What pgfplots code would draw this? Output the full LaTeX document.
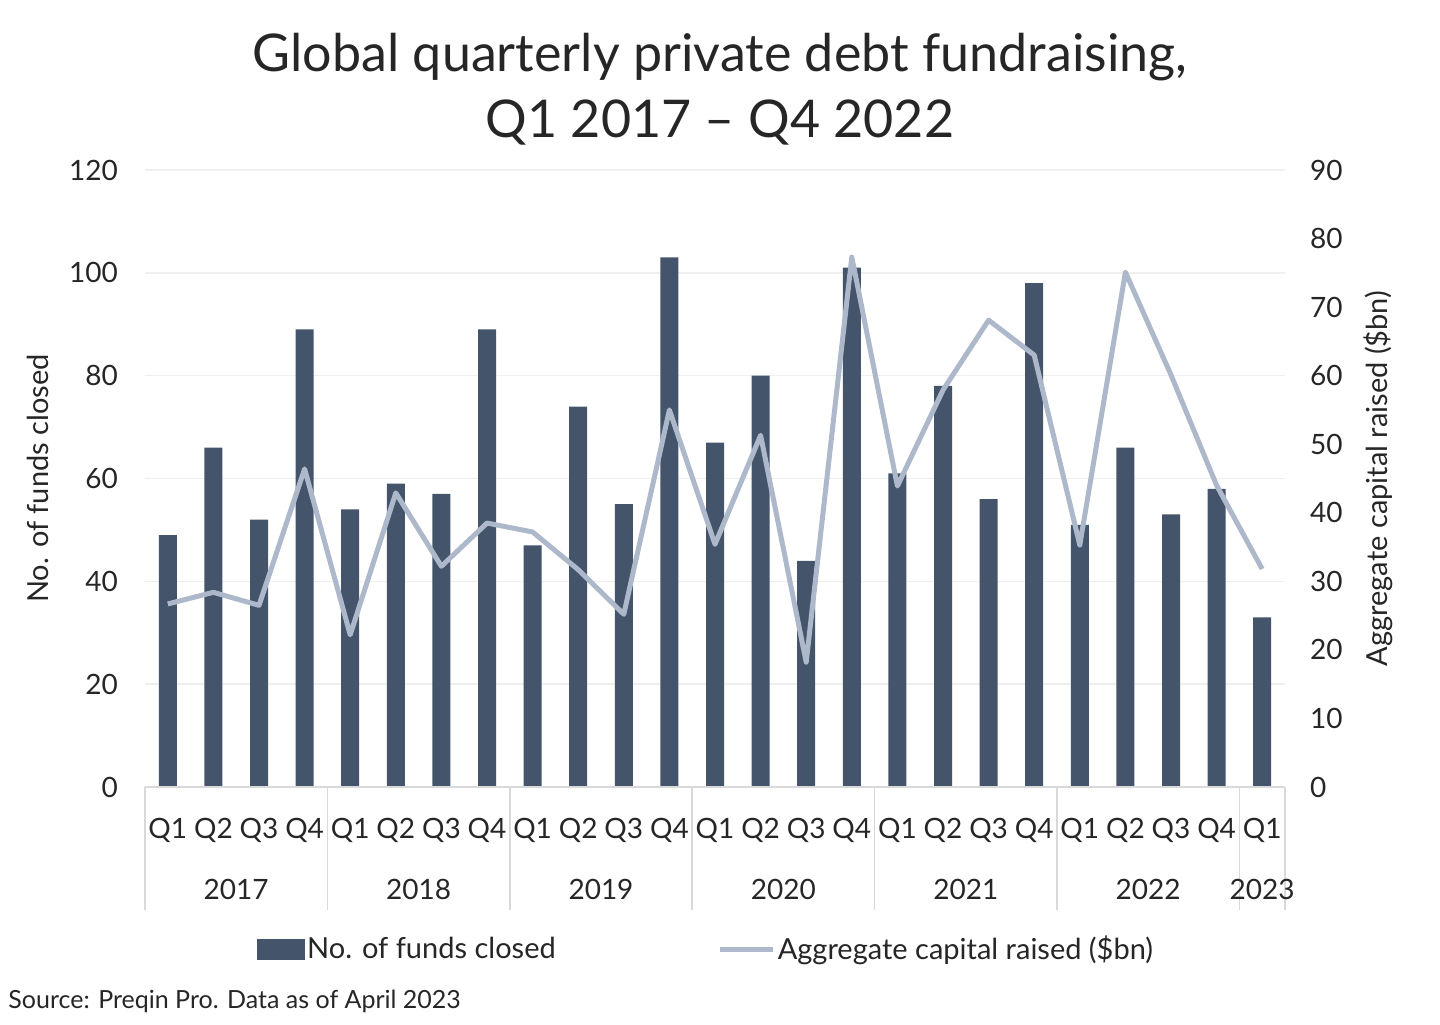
\documentclass[border=0pt]{standalone}
\usepackage{fontspec}
\setmainfont{Lato}
\usepackage{pgfplots}
\usepackage{pgfplotstable}
\pgfplotsset{compat=1.18}
\definecolor{barc}{HTML}{44546A}
\definecolor{linec}{HTML}{ADB9CA}
\definecolor{gridc}{HTML}{EFEFEF}
\definecolor{sepc}{HTML}{D9D9D9}
\definecolor{txt}{HTML}{262626}
\pgfplotstableread{
idx funds capital
0 49 26.7
1 66 28.4
2 52 26.5
3 89 46.4
4 54 22.2
5 59 42.9
6 57 32.2
7 89 38.5
8 47 37.2
9 74 31.7
10 55 25.2
11 103 55.0
12 67 35.4
13 80 51.3
14 44 18.2
15 101 77.3
16 61 43.9
17 78 57.9
18 56 68.1
19 98 63.0
20 51 35.3
21 66 75.1
22 53 60.1
23 58 44.0
24 33 31.8
}\datatable
\begin{document}
\begin{tikzpicture}
\path[use as bounding box] (0pt,0pt) rectangle (720pt,512pt);
\node[anchor=base, font=\fontsize{26}{31}\selectfont, text=txt, inner sep=0pt] at (360pt,476pt) {Global quarterly private debt fundraising,};
\node[anchor=base, font=\fontsize{26}{31}\selectfont, text=txt, inner sep=0pt] at (360pt,443pt) {Q1 2017 – Q4 2022};
\node[anchor=base west, font=\fontsize{12.5}{14}\selectfont, text=txt, inner sep=0pt] at (4pt,8pt) {Source: Preqin Pro. Data as of April 2023};
\begin{axis}[
  at={(72.5pt,118.5pt)}, anchor=south west,
  scale only axis, width=570pt, height=308.5pt,
  xmin=-0.5, xmax=24.5, ymin=0, ymax=120,
  ytick={0,20,...,120},
  xtick={0,...,24},
  xticklabels={Q1,Q2,Q3,Q4,Q1,Q2,Q3,Q4,Q1,Q2,Q3,Q4,Q1,Q2,Q3,Q4,Q1,Q2,Q3,Q4,Q1,Q2,Q3,Q4,Q1},
  axis line style={draw=none},
  major tick length=0pt,
  ymajorgrids, grid style={gridc, line width=0.8pt},
  /pgf/number format/assume math mode=true,
  tick label style={font=\fontsize{14}{16}\selectfont, text=txt},
  yticklabel style={xshift=-10pt},
  xticklabel style={yshift=-12pt},
  ylabel={No. of funds closed},
  every axis y label/.style={at={(rel axis cs:0,0.5)}, xshift=-53.5pt, rotate=90, anchor=center, font=\fontsize{14.5}{16}\selectfont, text=txt},
  clip=false,
]
\addplot[ybar, bar width=9pt, fill=barc, draw=none] table[x=idx, y=funds] {\datatable};
\draw[sepc, line width=0.8pt] (axis cs:-0.5,0) -- (axis cs:24.5,0);
\pgfplotsinvokeforeach{-0.5,3.5,7.5,11.5,15.5,19.5,23.5,24.5}{
  \draw[sepc, line width=0.8pt] (axis cs:#1,0) -- ++(0pt,-61.5pt);
}
\node[font=\fontsize{14}{16}\selectfont, text=txt, anchor=center] at ([yshift=-51pt]axis cs:1.5,0) {2017};
\node[font=\fontsize{14}{16}\selectfont, text=txt, anchor=center] at ([yshift=-51pt]axis cs:5.5,0) {2018};
\node[font=\fontsize{14}{16}\selectfont, text=txt, anchor=center] at ([yshift=-51pt]axis cs:9.5,0) {2019};
\node[font=\fontsize{14}{16}\selectfont, text=txt, anchor=center] at ([yshift=-51pt]axis cs:13.5,0) {2020};
\node[font=\fontsize{14}{16}\selectfont, text=txt, anchor=center] at ([yshift=-51pt]axis cs:17.5,0) {2021};
\node[font=\fontsize{14}{16}\selectfont, text=txt, anchor=center] at ([yshift=-51pt]axis cs:21.5,0) {2022};
\node[font=\fontsize{14}{16}\selectfont, text=txt, anchor=center] at ([yshift=-51pt]axis cs:24,0) {2023};
\end{axis}
\begin{axis}[
  at={(72.5pt,118.5pt)}, anchor=south west,
  scale only axis, width=570pt, height=308.5pt,
  xmin=-0.5, xmax=24.5, ymin=0, ymax=90,
  ytick={0,10,...,90},
  axis y line*=right, axis x line=none,
  axis line style={draw=none},
  major tick length=0pt,
  /pgf/number format/assume math mode=true,
  tick label style={font=\fontsize{14}{16}\selectfont, text=txt},
  yticklabel style={xshift=9pt},
  ylabel={Aggregate capital raised (\$bn)},
  every axis y label/.style={at={(rel axis cs:1,0.5)}, xshift=46.5pt, rotate=90, anchor=center, font=\fontsize{14.5}{16}\selectfont, text=txt},
  legend columns=2,
  legend style={at={(rel axis cs:0,0)}, anchor=west, xshift=53pt, yshift=-81pt, draw=none, fill=none, font=\fontsize{14.5}{16}\selectfont, text=txt, nodes={inner sep=1pt}, /tikz/every even column/.append style={column sep=80pt}},
  clip=false,
]
\addlegendimage{legend image code/.code={\fill[barc] (0pt,-5pt) rectangle (23.5pt,5pt);}}
\addlegendentry{No. of funds closed}
\addplot[linec, line width=2.5pt, line join=round, mark=none, legend image code/.code={\draw[linec, line width=2.5pt] (0pt,0pt) -- (26.5pt,0pt);}] table[x=idx, y=capital] {\datatable};
\addlegendentry{Aggregate capital raised (\$bn)}
\end{axis}
\end{tikzpicture}
\end{document}
